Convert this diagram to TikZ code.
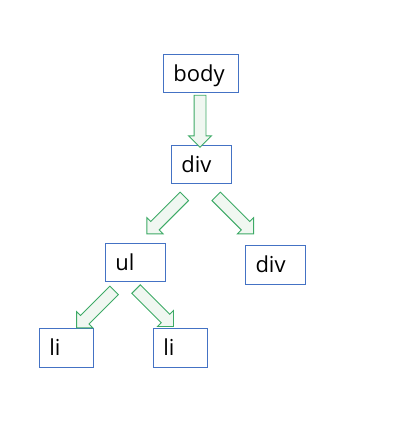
\documentclass[tikz,border=0pt]{standalone}
\usepackage{fontspec}
\setmainfont{Open Sans}
\usetikzlibrary{shapes.arrows}
\definecolor{boxblue}{HTML}{4472C4}
\definecolor{arrgreen}{HTML}{3DAA66}
\definecolor{arrfill}{HTML}{F0F7F1}
\begin{document}
\begin{tikzpicture}[x=1pt,y=-1pt,
  tagbox/.style={draw=boxblue, line width=0.9pt, rectangle, minimum height=38pt,
    inner xsep=10pt, inner ysep=0pt, text height=18pt, text depth=2pt,
    font=\fontsize{22}{24}\selectfont, align=left},
  blockarrow/.style={single arrow, draw=arrgreen, fill=arrfill, line width=0.9pt,
    inner sep=5.5pt, single arrow head extend=5.5pt, single arrow tip angle=90,
    minimum height=53pt}]
\useasboundingbox (0,0) rectangle (402,421);
\node[tagbox, text width=55pt] (body) at (200.8,73.3) {body};
\node[tagbox, text width=40pt] (div1) at (201.3,164.3) {div};
\node[tagbox, text width=40pt] (ul) at (135.3,262.3) {ul};
\node[tagbox, text width=40pt, minimum height=39pt] (div2) at (275.5,264.8) {div};
\node[tagbox, text width=34pt, minimum height=39pt] (li1) at (66.3,347.8) {li};
\node[tagbox, text width=34pt, minimum height=39pt] (li2) at (180.3,347.8) {li};
\node[blockarrow, minimum height=52pt, rotate=-90] (a1) at (200,118.3) {};
\node[blockarrow, rotate=-135] (a2) at (167.7,213) {};
\node[blockarrow, rotate=-45] (a3) at (232.8,213) {};
\node[blockarrow, rotate=-135] (a4) at (97.5,307) {};
\node[blockarrow, rotate=-45] (a5) at (152.7,305.7) {};
\end{tikzpicture}
\end{document}
